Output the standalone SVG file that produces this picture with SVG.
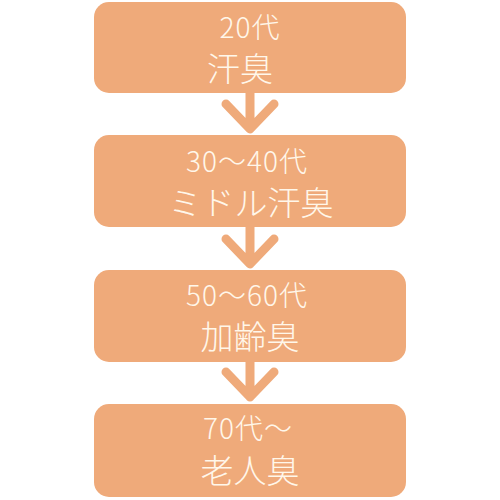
<svg xmlns="http://www.w3.org/2000/svg" width="500" height="500" viewBox="0 0 500 500">
<style>
.box{fill:#EFAA7A;}
.t1{font-family:"Noto Sans CJK JP","Noto Sans",sans-serif;font-size:28px;font-weight:300;fill:#FFF7EA;text-anchor:middle;letter-spacing:1px;}
.t2{font-family:"Noto Sans CJK JP","Noto Sans",sans-serif;font-size:33px;font-weight:300;fill:#FFF7EA;text-anchor:middle;}
.arr{fill:none;stroke:#EFAA7A;stroke-width:9;stroke-linecap:round;stroke-linejoin:round;}
</style>
<rect width="500" height="500" fill="#FFFFFF"/>
<g id="connectors">
<path class="arr" d="M250 92V128M226 104L250 129L274 104"/>
<path class="arr" d="M250 227V263M226 239L250 264L274 239"/>
<path class="arr" d="M250 362V397M226 372L250 397L274 372"/>
</g>
<g id="node1">
<rect class="box" x="94" y="2" width="312" height="91" rx="15"/>
<text class="t1" x="250" y="38">20代</text>
<text class="t2" x="240" y="81">汗臭</text>
</g>
<g id="node2">
<rect class="box" x="94" y="135" width="312" height="92" rx="15"/>
<text class="t1" x="247" y="172">30～40代</text>
<text class="t2" x="251" y="215">ミドル汗臭</text>
</g>
<g id="node3">
<rect class="box" x="94" y="270" width="312" height="92" rx="15"/>
<text class="t1" x="247" y="306">50～60代</text>
<text class="t2" x="250" y="349">加齢臭</text>
</g>
<g id="node4">
<rect class="box" x="94" y="404" width="312" height="93" rx="15"/>
<text class="t1" x="248" y="439">70代～</text>
<text class="t2" x="250" y="483">老人臭</text>
</g>
</svg>
